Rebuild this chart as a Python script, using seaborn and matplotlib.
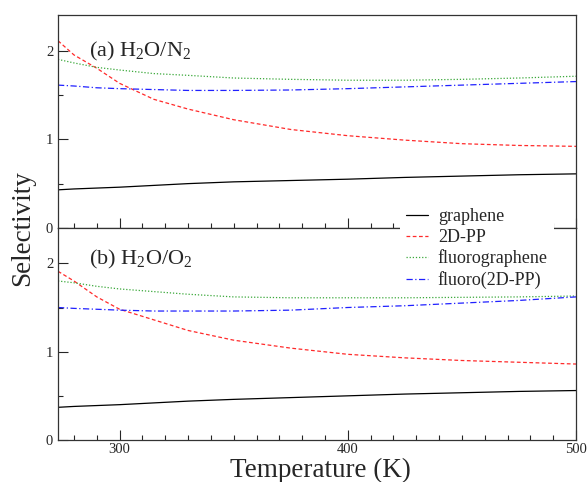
import matplotlib
matplotlib.use("Agg")
import matplotlib.pyplot as plt
import seaborn as sns
import pandas as pd
from matplotlib.ticker import MultipleLocator

# ---- data ----
temperature = [273, 280, 290, 300, 315, 330, 350, 375, 400, 425, 450, 475, 500]

# (a) H2O/N2
n2_graphene = [0.43, 0.44, 0.45, 0.46, 0.48, 0.50, 0.52, 0.535, 0.55, 0.57, 0.585, 0.60, 0.61]
n2_2dpp = [2.11, 1.95, 1.80, 1.63, 1.45, 1.34, 1.22, 1.11, 1.04, 0.99, 0.95, 0.93, 0.92]
n2_fluorographene = [1.90, 1.86, 1.81, 1.78, 1.74, 1.72, 1.69, 1.675, 1.665, 1.665, 1.675, 1.69, 1.71]
n2_fluoro2dpp = [1.61, 1.60, 1.58, 1.57, 1.56, 1.55, 1.55, 1.555, 1.57, 1.59, 1.61, 1.63, 1.65]

# (b) H2O/O2
o2_graphene = [0.37, 0.38, 0.39, 0.40, 0.42, 0.44, 0.46, 0.48, 0.50, 0.52, 0.535, 0.55, 0.56]
o2_2dpp = [1.91, 1.80, 1.62, 1.48, 1.36, 1.24, 1.13, 1.04, 0.97, 0.93, 0.90, 0.88, 0.86]
o2_fluorographene = [1.80, 1.78, 1.74, 1.71, 1.68, 1.65, 1.62, 1.61, 1.61, 1.61, 1.615, 1.62, 1.63]
o2_fluoro2dpp = [1.50, 1.49, 1.48, 1.47, 1.46, 1.46, 1.46, 1.47, 1.50, 1.52, 1.55, 1.58, 1.62]

series_names = ["graphene", "2D-PP", "fluorographene", "fluoro(2D-PP)"]
panel_labels = ["(a) H$_2$O/N$_2$", "(b) H$_2$O/O$_2$"]
x_ticks = [300, 400, 500]
y_ticks = [0, 1, 2]

colors = {"graphene": "black", "2D-PP": "#ff2a2a", "fluorographene": "#3aa83a", "fluoro(2D-PP)": "#2020ff"}
styles = {"graphene": "-", "2D-PP": (0, (3, 2)), "fluorographene": (0, (1, 1.5)), "fluoro(2D-PP)": (0, (5, 2, 1, 2))}

def make_df(vals):
    rows = []
    for name, v in zip(series_names, vals):
        for t, s in zip(temperature, v):
            rows.append({"Temperature": t, "Selectivity": s, "series": name})
    return pd.DataFrame(rows)

df_a = make_df([n2_graphene, n2_2dpp, n2_fluorographene, n2_fluoro2dpp])
df_b = make_df([o2_graphene, o2_2dpp, o2_fluorographene, o2_fluoro2dpp])

sns.set_style("ticks")
plt.rcParams["font.family"] = ["Liberation Serif", "DejaVu Serif"]
plt.rcParams["mathtext.fontset"] = "custom"
plt.rcParams["mathtext.rm"] = "Liberation Serif"
plt.rcParams["mathtext.it"] = "Liberation Serif:italic"

fig = plt.figure(figsize=(5.87, 4.82), dpi=100)
left, right = 58 / 587, 576 / 587
ax_a = fig.add_axes([left, 1 - 228 / 482, right - left, (228 - 15) / 482])
ax_b = fig.add_axes([left, 1 - 440 / 482, right - left, (440 - 228) / 482])

for ax, df, lab, ly in [(ax_a, df_a, panel_labels[0], 0.83), (ax_b, df_b, panel_labels[1], 0.85)]:
    for name in series_names:
        sub = df[df["series"] == name]
        sns.lineplot(data=sub, x="Temperature", y="Selectivity", ax=ax,
                     color=colors[name], linestyle=styles[name], linewidth=0.9,
                     label=name, legend=False)
    ax.set_xlim(273, 500)
    ax.set_ylim(0, 2.4)
    ax.set_xticks(x_ticks)
    ax.xaxis.set_minor_locator(MultipleLocator(10))
    ax.set_yticks(y_ticks)
    ax.yaxis.set_minor_locator(MultipleLocator(0.5))
    ax.tick_params(which="both", direction="in", top=False, right=False, labelsize=10.5, width=0.8)
    ax.tick_params(which="major", length=7)
    ax.tick_params(which="minor", length=3.5)
    ax.tick_params(axis="x", which="major", pad=2)
    ax.set_xlabel("")
    ax.set_ylabel("")
    for sp in ax.spines.values():
        sp.set_linewidth(0.9)
        sp.set_color("#333333")
    ax.text(0.060, ly, lab, transform=ax.transAxes, fontsize=16, va="center", ha="left")

ax_a.tick_params(labelbottom=False)

lines = ax_b.get_lines()[:4]
leg = fig.legend(lines, series_names, loc="upper left",
                 bbox_to_anchor=(400 / 587, 1 - 202 / 482), frameon=True,
                 fontsize=13, handlelength=1.2, handletextpad=0.55,
                 labelspacing=0.2, borderpad=0.35, borderaxespad=0)
leg.get_frame().set_facecolor("white")
leg.get_frame().set_edgecolor("none")
leg.get_frame().set_alpha(1.0)
leg.set_zorder(10)

fig.text(23 / 587, 1 - 228 / 482, "Selectivity", rotation=90, fontsize=19.5, va="center", ha="center")
fig.text(320 / 587, 1 - 477 / 482, "Temperature (K)", fontsize=19.5, va="baseline", ha="center")

fig.savefig("out.png", dpi=100)
